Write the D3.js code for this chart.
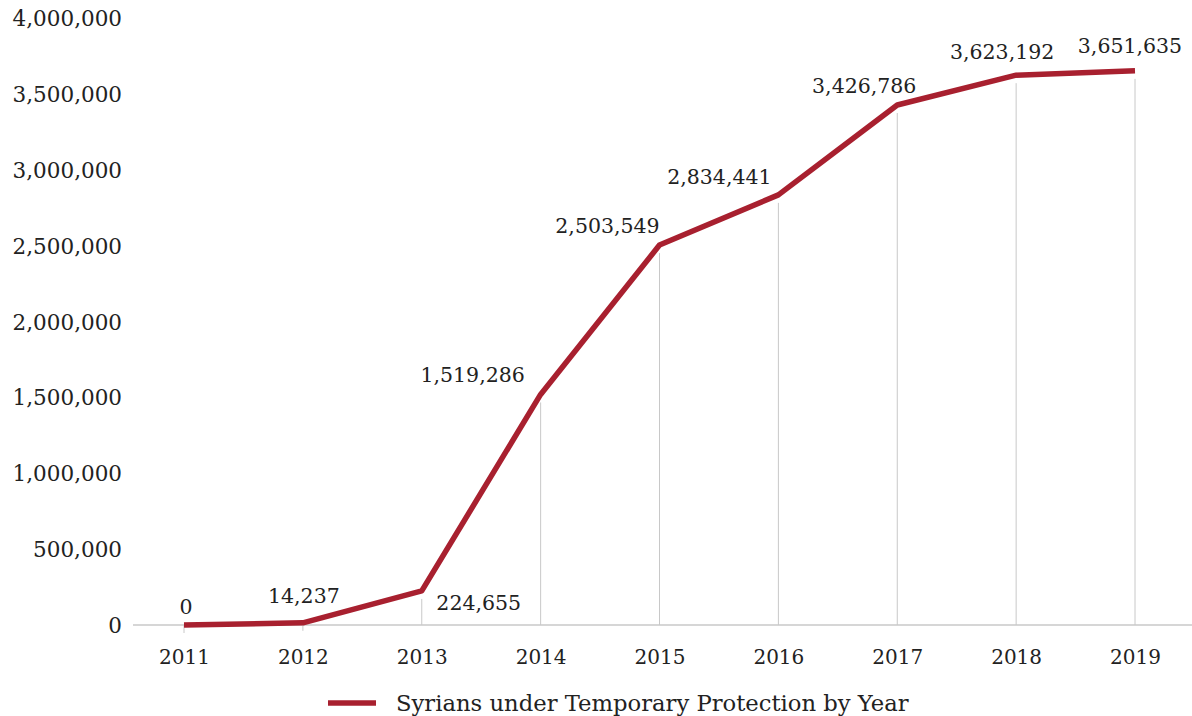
<!DOCTYPE html>
<html>
<head>
<meta charset="utf-8">
<script src="https://cdn.jsdelivr.net/npm/d3@7"></script>
<style>
  html, body { margin: 0; padding: 0; background: #ffffff; }
  svg text { font-family: "DejaVu Serif", serif; fill: #222; }
</style>
</head>
<body>
<svg id="chart" width="1192" height="716"></svg>
<script>
// ---- data ----
const years = ["2011", "2012", "2013", "2014", "2015", "2016", "2017", "2018", "2019"];
const syrians = [0, 14237, 224655, 1519286, 2503549, 2834441, 3426786, 3623192, 3651635];
const yTicks = [0, 500000, 1000000, 1500000, 2000000, 2500000, 3000000, 3500000, 4000000];
const seriesName = "Syrians under Temporary Protection by Year";
// label offsets (px) relative to each point
const labelDx = [2, 1, 57, -68, -52, -59, -33, -14, -5];
const labelDy = [-18, -27, 12, -20, -19, -18, -19, -23, -25];

const svg = d3.select("#chart");
const red = "#a8202f";
const grid = "#c8c8c8";

const x = d3.scalePoint().domain(years).range([184, 1135]);
const y = d3.scaleLinear().domain([0, 4000000]).range([625, 18]);
const fmt = d3.format(",");

// vertical drop lines
svg.append("g").selectAll("line").data(years).join("line")
  .attr("x1", d => x(d)).attr("x2", d => x(d))
  .attr("y1", (d, i) => y(syrians[i]) + 8).attr("y2", y(0))
  .attr("stroke", grid).attr("stroke-width", 1);

// baseline
svg.append("line").attr("x1", 133).attr("x2", 1192)
  .attr("y1", y(0)).attr("y2", y(0))
  .attr("stroke", grid).attr("stroke-width", 1.3);

// y axis labels
const yAxis = d3.axisLeft(y).tickValues(yTicks).tickFormat(fmt).tickSize(0).tickPadding(0);
const gy = svg.append("g").attr("transform", "translate(122,0)").call(yAxis);
gy.select(".domain").remove();
gy.selectAll("text").style("font-family", "DejaVu Serif").style("font-size", "21.5px").attr("fill", "#222").attr("dy", "0.35em");

// x axis labels
const xAxis = d3.axisBottom(x).tickSize(0).tickPadding(0);
const gx = svg.append("g").attr("transform", "translate(0,657)").call(xAxis);
gx.select(".domain").remove();
gx.selectAll("text").style("font-family", "DejaVu Serif").style("font-size", "20px").attr("fill", "#222").attr("dy", "0.35em");

// line
const line = d3.line().x((d, i) => x(years[i])).y(d => y(d));
svg.append("path").datum(syrians)
  .attr("d", line)
  .attr("fill", "none").attr("stroke", red).attr("stroke-width", 5.5)
  .attr("stroke-linejoin", "round");

// data labels
svg.append("g").selectAll("text").data(syrians).join("text")
  .attr("x", (d, i) => x(years[i]) + labelDx[i])
  .attr("y", (d, i) => y(d) + labelDy[i])
  .attr("text-anchor", "middle").attr("dy", "0.35em")
  .style("font-size", "20.5px")
  .text(d => fmt(d));

// legend
const lg = svg.append("g");
lg.append("line").attr("x1", 328).attr("x2", 376).attr("y1", 703).attr("y2", 703)
  .attr("stroke", red).attr("stroke-width", 5.5);
lg.append("text").attr("x", 396).attr("y", 703).attr("dy", "0.35em")
  .style("font-size", "22.7px").text(seriesName);
</script>
</body>
</html>
